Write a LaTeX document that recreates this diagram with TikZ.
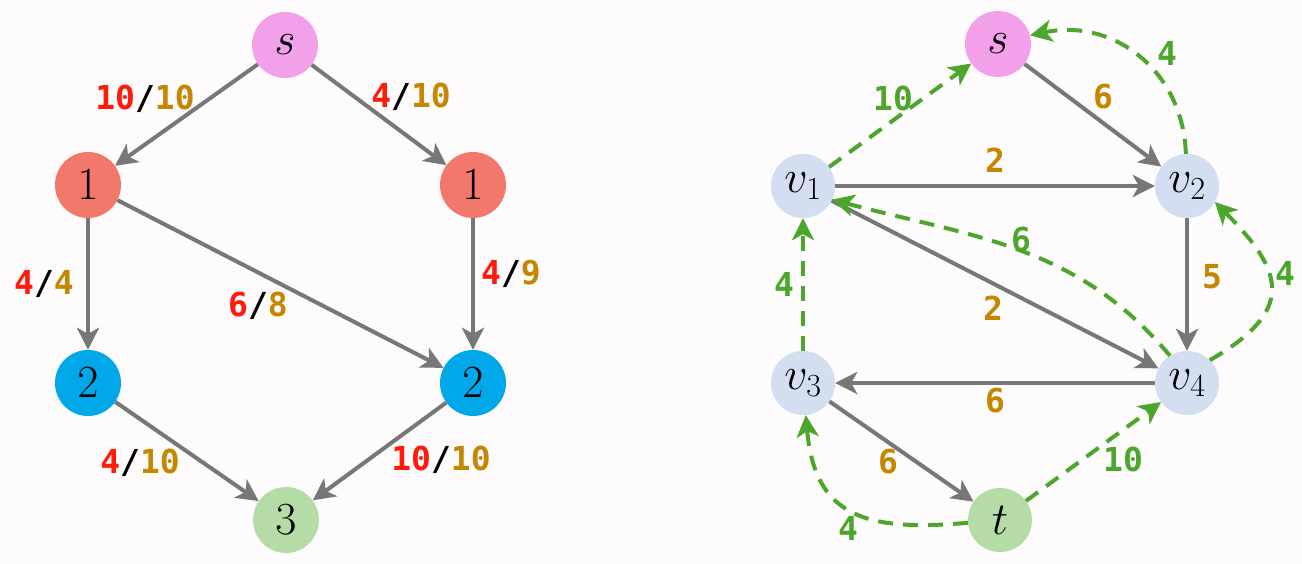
\RequirePackage{fix-cm}
\documentclass[tikz,border=0pt]{standalone}
\usepackage{fontspec}
\usetikzlibrary{arrows.meta}
\newfontfamily\lblfont{DejaVu Sans Mono}
\definecolor{bgc}{HTML}{FDFBFC}
\definecolor{edgegray}{HTML}{777777}
\definecolor{flowred}{HTML}{FF1A0A}
\definecolor{capgold}{HTML}{C58600}
\definecolor{resgreen}{HTML}{4CA62C}
\definecolor{pinkc}{HTML}{F3A0EB}
\definecolor{salmonc}{HTML}{F3786C}
\definecolor{bluec}{HTML}{00A8EA}
\definecolor{greenc}{HTML}{B5DCA7}
\definecolor{lightbluec}{HTML}{D3DEF1}
\tikzset{
  x=1pt, y=-1pt,
  vtx/.style={circle, minimum size=66pt, inner sep=0pt, font=\fontsize{46}{46}\selectfont},
  rvtx/.style={circle, minimum size=64pt, inner sep=0pt, fill=lightbluec, font=\fontsize{46}{46}\selectfont},
  flowedge/.style={draw=edgegray, line width=4pt, -{Stealth[length=22pt,width=22pt,inset=6pt]}},
  resedge/.style={draw=resgreen, line width=4pt, dash pattern=on 15pt off 10pt, -{Stealth[length=22pt,width=22pt,inset=6pt]}},
  lbl/.style={inner sep=0pt, font=\lblfont\bfseries\fontsize{33}{33}\selectfont},
  glbl/.style={lbl, text=resgreen},
  clbl/.style={lbl, text=capgold},
}
\newcommand{\fl}[2]{\textcolor{flowred}{#1}\textcolor{black}{/}\textcolor{capgold}{#2}}
\begin{document}
\begin{tikzpicture}
\fill[bgc] (0,0) rectangle (1302,564);
\useasboundingbox (0,0) rectangle (1302,564);
% ---------- left graph ----------
\node[vtx, fill=pinkc] (ls) at (285,45) {$s$};
\node[vtx, fill=salmonc] (la1) at (88,185) {$1$};
\node[vtx, fill=salmonc] (lb1) at (473,185) {$1$};
\node[vtx, fill=bluec] (la2) at (88,383) {$2$};
\node[vtx, fill=bluec] (lb2) at (473,383) {$2$};
\node[vtx, fill=greenc] (lt) at (286,520) {$3$};
\draw[flowedge] (ls) -- (la1);
\draw[flowedge] (ls) -- (lb1);
\draw[flowedge] (la1) -- (la2);
\draw[flowedge] (la1) -- (lb2);
\draw[flowedge] (lb1) -- (lb2);
\draw[flowedge] (la2) -- (lt);
\draw[flowedge] (lb2) -- (lt);
\node[lbl] (l1) at (145,99) {\fl{10}{10}};
\node[lbl] (l2) at (411,97) {\fl{4}{10}};
\node[lbl] (l3) at (44,284) {\fl{4}{4}};
\node[lbl] (l4) at (258,306) {\fl{6}{8}};
\node[lbl] (l5) at (511,274) {\fl{4}{9}};
\node[lbl] (l6) at (140,463) {\fl{4}{10}};
\node[lbl] (l7) at (441,460) {\fl{10}{10}};
% ---------- right graph ----------
\node[vtx, fill=pinkc] (s) at (998,44) {$s$};
\node[rvtx] (v1) at (803,186) {$v_1$};
\node[rvtx] (v2) at (1187,186) {$v_2$};
\node[rvtx] (v3) at (803,383) {$v_3$};
\node[rvtx] (v4) at (1187,383) {$v_4$};
\node[vtx, fill=greenc, minimum size=64pt] (t) at (1000,520) {$t$};
\draw[flowedge] (s) -- (v2);
\draw[flowedge] (v1) -- (v2);
\draw[flowedge] (v1) -- (v4);
\draw[flowedge] (v2) -- (v4);
\draw[flowedge] (v4) -- (v3);
\draw[flowedge] (v3) -- (t);
\draw[resedge] (v1) -- (s);
\draw[resedge] (t) -- (v4);
\draw[resedge] (v3) -- (v1);
\draw[resedge] (v2.92) to[out=92,in=12,looseness=1.1] (s.15);
\draw[resedge] (v4.122) to[out=130,in=-15] (v1.-25);
\draw[resedge] (v4.45) to[out=30,in=-45,looseness=1.6] (v2.-30);
\draw[resedge] (t.185) to[out=185,in=-85,looseness=1.35] (v3.-85);
\node[glbl] (g1) at (893,98) {10};
\node[clbl] (c1) at (1103,97) {6};
\node[glbl] (g2) at (1167,53) {4};
\node[clbl] (c2) at (995,160) {2};
\node[glbl] (g3) at (1021,240) {6};
\node[glbl] (g4) at (784,284) {4};
\node[clbl] (c3) at (993,308) {2};
\node[clbl] (c4) at (1212,277) {5};
\node[glbl] (g5) at (1285,273) {4};
\node[clbl] (c5) at (995,401) {6};
\node[clbl] (c6) at (888,462) {6};
\node[glbl] (g6) at (1123,459) {10};
\node[glbl] (g7) at (848,528) {4};
\end{tikzpicture}
\end{document}
